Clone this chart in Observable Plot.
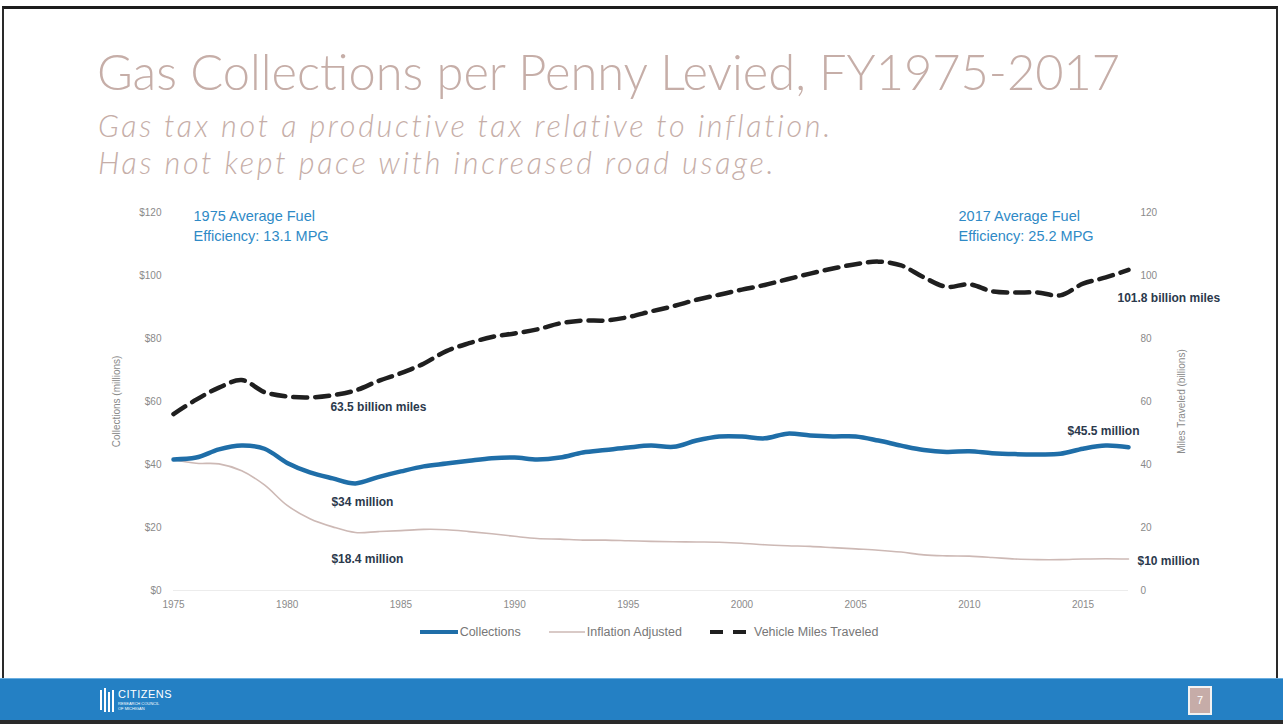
<!DOCTYPE html>
<html>
<head>
<meta charset="utf-8">
<script src="https://cdn.jsdelivr.net/npm/d3@7"></script>
<script src="https://cdn.jsdelivr.net/npm/@observablehq/plot@0.6"></script>
<style>
  html, body { margin: 0; padding: 0; background: #fff; }
  #page { position: relative; width: 1283px; height: 724px; overflow: hidden; background: #fff; }
  #frame { position: absolute; left: 2px; top: 6px; width: 1276px; height: 720px; border-top: 3px solid #1c1c1c; border-left: 2px solid #2a2a2a; border-right: 2px solid #2a2a2a; box-sizing: border-box; }
  #title { position: absolute; left: 97px; top: 42px; font-family: Lato, "Open Sans", sans-serif; font-weight: 300; font-size: 48.8px; line-height: 1.2; color: #c6aea8; white-space: nowrap; }
  .sub { position: absolute; left: 98px; font-family: Lato, "Open Sans", sans-serif; font-style: italic; font-weight: 300; font-size: 30.5px; line-height: 1.2; color: #c6aea8; white-space: nowrap; letter-spacing: 2.7px; }
  #chart { position: absolute; left: 0; top: 190px; }
  #legend { position: absolute; left: 0; top: 625px; width: 1283px; display: flex; justify-content: center; font-family: "Liberation Sans", Arial, sans-serif; font-size: 12.5px; color: #777; padding-left: 15px; box-sizing: border-box; }
  .item { display: flex; align-items: center; margin: 0 14px; }
  .item svg { margin-right: 2px; }
  #footer { position: absolute; left: 0; top: 678px; width: 1283px; height: 42px; background: #2480c4; border-top: 1px solid #6aaee0; }
  #footer2 { position: absolute; left: 0; top: 720px; width: 1283px; height: 4px; background: #2a2a2a; }
  #logo { position: absolute; left: 100px; top: 688px; color: #fff; font-family: "Liberation Sans", Arial, sans-serif; }
  #pnum { position: absolute; left: 1188px; top: 686px; width: 20px; height: 25px; background: #c6aca8; border: 2px solid #f2f2f2; color: #fff; font-family: "Liberation Sans", Arial, sans-serif; font-size: 11px; text-align: center; line-height: 25px; }
</style>
</head>
<body>
<div id="page">
  <div id="frame"></div>
  <div id="title">Gas Collections per Penny Levied, FY1975-2017</div>
  <div class="sub" style="top:107px">Gas tax not a productive tax relative to inflation.</div>
  <div class="sub" style="top:144px">Has not kept pace with increased road usage.</div>
  <div id="chart"></div>
  <div id="legend"></div>
  <div id="footer"></div>
  <div id="footer2"></div>
  <div id="logo">
    <svg width="16" height="24" style="position:absolute;left:0;top:0">
      <rect x="0" y="2" width="2" height="20" fill="#fff"/>
      <rect x="4" y="0" width="2" height="24" fill="#fff"/>
      <rect x="8" y="4" width="2" height="20" fill="#fff"/>
      <rect x="12" y="2" width="2" height="22" fill="#fff"/>
    </svg>
    <div style="position:absolute;left:18px;top:0;font-size:11px;letter-spacing:0.5px;">CITIZENS</div>
    <div style="position:absolute;left:18px;top:13px;font-size:4px;white-space:nowrap;">RESEARCH COUNCIL</div>
    <div style="position:absolute;left:18px;top:18px;font-size:4px;white-space:nowrap;">OF MICHIGAN</div>
  </div>
  <div id="pnum">7</div>
</div>
<script>
// ---- Data ----
const years = [1975,1976,1977,1978,1979,1980,1981,1982,1983,1984,1985,1986,1987,1988,1989,1990,1991,1992,1993,1994,1995,1996,1997,1998,1999,2000,2001,2002,2003,2004,2005,2006,2007,2008,2009,2010,2011,2012,2013,2014,2015,2016,2017];
const collections = [41.6,42.2,44.8,46.0,45.0,40.5,37.5,35.6,34.0,36.0,37.8,39.4,40.3,41.2,42.0,42.2,41.6,42.2,43.8,44.6,45.4,46.0,45.6,47.6,48.9,48.9,48.3,49.8,49.2,48.9,48.9,47.6,46.0,44.6,44.0,44.2,43.6,43.3,43.2,43.4,45.0,46.0,45.5];
const inflationAdjusted = [41.6,40.4,40.2,38.0,33.5,27.0,22.8,20.2,18.4,18.7,19.0,19.4,19.3,18.7,18.0,17.2,16.5,16.3,16.0,16.0,15.8,15.6,15.5,15.4,15.3,15.0,14.5,14.2,14.0,13.6,13.2,12.8,12.2,11.3,11.0,10.9,10.5,10.0,9.8,9.8,10.0,10.1,10.0];
const vehicleMiles = [56.0,60.6,64.4,66.8,63.0,61.6,61.3,62.0,63.5,66.5,69.0,72.0,76.0,78.5,80.5,81.6,82.9,84.8,85.7,85.7,86.8,88.6,90.3,92.3,93.9,95.5,97.0,98.8,100.6,102.2,103.6,104.4,103.2,99.4,96.4,97.2,95.0,94.6,94.6,93.7,97.4,99.4,101.8];

const seriesNames = ["Collections", "Inflation Adjusted", "Vehicle Miles Traveled"];
const xTicks = [1975,1980,1985,1990,1995,2000,2005,2010,2015];
const yTicks = [0,20,40,60,80,100,120];
const leftAxisLabel = "Collections (millions)";
const rightAxisLabel = "Miles Traveled (billions)";

const noteLabels = ["63.5 billion miles", "$34 million", "$18.4 million", "$45.5 million", "$10 million", "101.8 billion miles"];
const noteYears  = [1983, 1983, 1983, 2017, 2017, 2017];
const noteValues = [63.5, 34, 18.4, 45.5, 10, 101.8];

const mpgNotes = ["1975 Average Fuel\nEfficiency: 13.1 MPG", "2017 Average Fuel\nEfficiency: 25.2 MPG"];

// ---- Build rows ----
const toRows = vals => years.map((year, i) => ({year, value: vals[i]}));
const colRows = toRows(collections);
const infRows = toRows(inflationAdjusted);
const vmtRows = toRows(vehicleMiles);
const notes = noteLabels.map((text, i) => ({text, year: noteYears[i], value: noteValues[i]}));
// per-note offsets (styling)
const noteStyle = [
  {dx: -25, dy: 17, anchor: "start"},
  {dx: -24, dy: 19, anchor: "start"},
  {dx: -24, dy: 27, anchor: "start"},
  {dx: 11, dy: -16, anchor: "end"},
  {dx: 9, dy: 2, anchor: "start"},
  {dx: -11, dy: 28, anchor: "start"}
];

const noteMarks = notes.map((n, i) => Plot.text([n], {
  x: "year", y: "value", text: "text",
  dx: noteStyle[i].dx, dy: noteStyle[i].dy, textAnchor: noteStyle[i].anchor,
  fill: "#2b394c", fontWeight: "bold", fontSize: 12,
  fontFamily: "'Liberation Sans Narrow', 'Liberation Sans', Arial, sans-serif"
}));

const curve = "catmull-rom";

const chart = Plot.plot({
  width: 1283,
  height: 430,
  marginLeft: 173,
  marginRight: 155,
  marginTop: 22,
  marginBottom: 30,
  style: {fontFamily: "'Liberation Sans', Arial, sans-serif", fontSize: "10px", color: "#8a8a8a", background: "transparent"},
  x: {domain: [1975, 2017]},
  y: {domain: [0, 120]},
  marks: [
    Plot.ruleY([0], {stroke: "#ececec"}),
    Plot.axisX({ticks: xTicks, tickFormat: d => String(d), tickSize: 0, tickPadding: 10, label: null, fill: "#8a8a8a"}),
    Plot.axisY({anchor: "left", ticks: yTicks, tickFormat: d => "$" + d, tickSize: 0, tickPadding: 12,
      label: leftAxisLabel, labelAnchor: "center", labelArrow: "none", labelOffset: 61, fill: "#8a8a8a"}),
    Plot.axisY({anchor: "right", ticks: yTicks, tickFormat: d => String(d), tickSize: 0, tickPadding: 12,
      label: rightAxisLabel, labelAnchor: "center", labelArrow: "none", labelOffset: 56, fill: "#8a8a8a"}),
    Plot.line(infRows, {x: "year", y: "value", stroke: "#cdb9b5", strokeWidth: 1.6, curve}),
    Plot.line(colRows, {x: "year", y: "value", stroke: "#1f6ea8", strokeWidth: 4.5, curve}),
    Plot.line(vmtRows, {x: "year", y: "value", stroke: "#1f1f1f", strokeWidth: 4.5, strokeDasharray: "14,8", curve}),
    ...noteMarks,
    Plot.text([mpgNotes[0]], {frameAnchor: "top-left", text: d => d, dx: 20, dy: -6, lineAnchor: "top", textAnchor: "start",
      fill: "#2f8ac6", fontSize: 14.5, lineHeight: 1.38}),
    Plot.text([mpgNotes[1]], {frameAnchor: "top-right", text: d => d, dx: -170, dy: -6, lineAnchor: "top", textAnchor: "start",
      fill: "#2f8ac6", fontSize: 14.5, lineHeight: 1.38})
  ]
});
document.getElementById("chart").appendChild(chart);

// ---- Legend ----
const swatches = [
  `<svg width="38" height="8"><line x1="0" y1="4" x2="38" y2="4" stroke="#1f6ea8" stroke-width="4"/></svg>`,
  `<svg width="36" height="8"><line x1="0" y1="4" x2="36" y2="4" stroke="#cdb9b5" stroke-width="1.6"/></svg>`,
  `<svg width="42" height="8"><line x1="0" y1="4" x2="42" y2="4" stroke="#1f1f1f" stroke-width="4" stroke-dasharray="13,10"/></svg>`
];
document.getElementById("legend").innerHTML = seriesNames.map((s, i) =>
  `<div class="item">${swatches[i]}<span>${s}</span></div>`).join("");
</script>
</body>
</html>
